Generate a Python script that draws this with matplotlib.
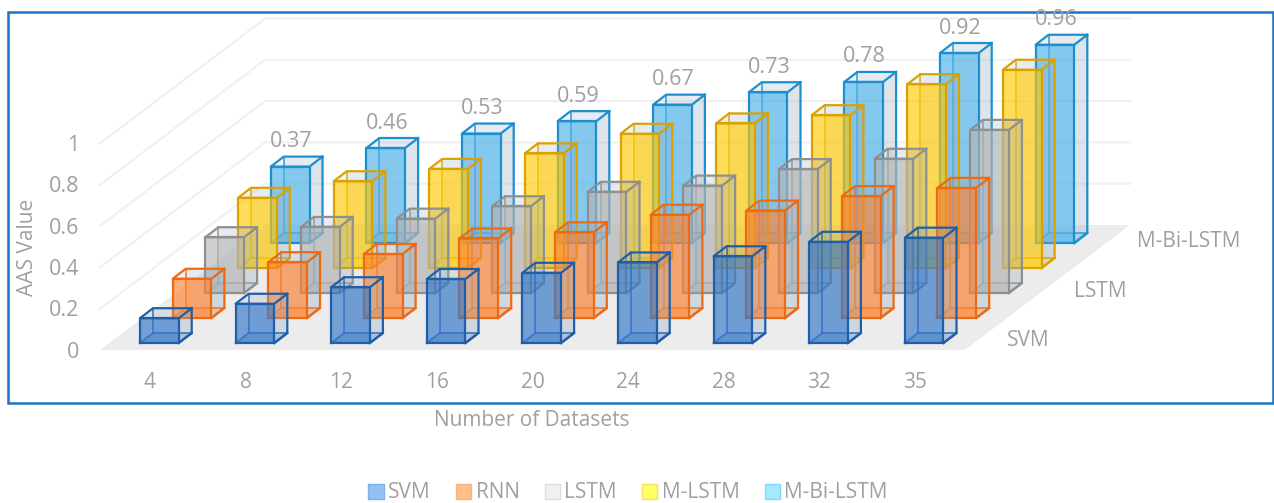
import numpy as np
import matplotlib.pyplot as plt
from matplotlib.patches import Patch, Rectangle

plt.rcParams['font.family'] = ['Open Sans', 'DejaVu Sans']

datasets = ['4', '8', '12', '16', '20', '24', '28', '32', '35']
series_names = ['SVM', 'RNN', 'LSTM', 'M-LSTM', 'M-Bi-LSTM']
depth_labels = ['SVM', 'LSTM', 'M-Bi-LSTM']
y_ticks = [0, 0.2, 0.4, 0.6, 0.8, 1]
y_tick_labels = ['0', '0.2', '0.4', '0.6', '0.8', '1']

svm = [0.12, 0.19, 0.27, 0.31, 0.34, 0.39, 0.42, 0.49, 0.51]
rnn = [0.19, 0.27, 0.31, 0.385, 0.415, 0.50, 0.52, 0.59, 0.63]
lstm = [0.27, 0.32, 0.36, 0.42, 0.49, 0.52, 0.60, 0.65, 0.79]
m_lstm = [0.34, 0.42, 0.48, 0.555, 0.65, 0.70, 0.74, 0.89, 0.96]
m_bi_lstm = [0.37, 0.46, 0.53, 0.59, 0.67, 0.73, 0.78, 0.92, 0.96]
all_values = [svm, rnn, lstm, m_lstm, m_bi_lstm]

edge_cols = ['#1f5fa8', '#ed6a12', '#8f8f8f', '#d9a200', '#1b8fcf']
face_cols = ['#3276c9', '#ff8230', '#b4b4b4', '#ffca00', '#4bb1e8']
legend_faces = ['#93c0f5', '#fdc088', '#f0f0f0', '#ffff66', '#a6e8ff']
legend_edges = ['#7fb0e8', '#f5b478', '#dddddd', '#f5e060', '#80d8f8']
text_col = '#a0a0a0'

# echelle : 1 categorie = 95.6 px, 1 unite de valeur = 206.5 px
W, H = 1274, 503
ux = 95.6
uy = 206.5
x0_px = 140
y0_px = 350

# decalages obliques (en unites de donnees)
bar_w = 38.7 / ux
dep_x = 13 / ux
dep_y = 10 / uy
ser_x = 32.7 / ux
ser_y = 25 / uy
base_y = 7 / uy

fig = plt.figure(figsize=(W / 100, H / 100), dpi=100)
ax = fig.add_axes([0, 0, 1, 1])
ax.set_xlim(-x0_px / ux, (W - x0_px) / ux)
ax.set_ylim((y0_px - H) / uy, y0_px / uy)
ax.axis('off')

# cadre bleu
ax.add_patch(Rectangle((8 / W, 1 - 403 / H), 1265 / W, 391 / H, transform=ax.transAxes,
                       fill=False, edgecolor='#1b75c4', lw=1.8, zorder=1))

# sol et grille
fl_left = -40 / ux
fl_right = 825 / ux
back_x = 165 / ux
back_y = 125 / uy
ax.fill([fl_left, fl_right, fl_right + back_x, fl_left + back_x],
        [0, 0, back_y, back_y], color='#ececec', lw=0, zorder=1)
for v in y_ticks[1:]:
    ax.plot([fl_left, fl_left + back_x, fl_right + back_x], [v, v + back_y, v + back_y],
            color='#f0f0f0', lw=1.5, zorder=1)


def draw_bar(x, y, h, edge, face, z):
    w = bar_w
    dx = dep_x
    dy = dep_y
    # faces arriere, gauche, bas
    ax.fill([x + dx, x + dx + w, x + dx + w, x + dx], [y + dy, y + dy, y + dy + h, y + dy + h],
            color='#8faabf', alpha=0.12, lw=0, zorder=z)
    ax.fill([x, x + w, x + w + dx, x + dx], [y, y, y + dy, y + dy], color=face, alpha=0.3, lw=0, zorder=z)
    # cote droit et dessus
    ax.fill([x + w, x + w + dx, x + w + dx, x + w], [y, y + dy, y + dy + h, y + h],
            color='#8faabf', alpha=0.2, lw=0, zorder=z)
    ax.fill([x, x + w, x + w + dx, x + dx], [y + h, y + h, y + h + dy, y + h + dy],
            color='#8faabf', alpha=0.12, lw=0, zorder=z)
    # aretes arriere
    ax.plot([x + dx, x + dx, x + dx + w], [y + dy + h, y + dy, y + dy], color=edge, lw=1.3, alpha=0.75, zorder=z)
    ax.plot([x, x + dx], [y, y + dy], color=edge, lw=1.3, alpha=0.75, zorder=z)
    # face avant
    ax.fill([x, x + w, x + w, x], [y, y, y + h, y + h], color=face, alpha=0.65, lw=0, zorder=z)
    # aretes avant
    ax.plot([x, x + w, x + w, x, x], [y, y, y + h, y + h, y], color=edge, lw=1.6, zorder=z)
    ax.plot([x + w, x + w + dx, x + w + dx, x + dx, x, x + w, x + w + dx],
            [y, y + dy, y + h + dy, y + h + dy, y + h, y + h, y + h + dy], color=edge, lw=1.6, zorder=z)
    ax.plot([x + w, x + w + dx], [y, y + dy], color=edge, lw=1.6, zorder=z)


# de l'arriere vers l'avant
for s in range(4, -1, -1):
    for i, val in enumerate(all_values[s]):
        x = i + s * ser_x
        y = base_y + s * ser_y
        draw_bar(x, y, val, edge_cols[s], face_cols[s], 10 + (4 - s))
        if s == 4:
            ax.text(x + bar_w / 2 + 1 / ux, y + val + dep_y + 15 / uy, f'{val:.2f}', color=text_col,
                    fontsize=15.5, ha='center', va='center', zorder=30)

# textes des axes
for i, lab in enumerate(datasets):
    ax.text(i + 10 / ux, -33 / uy, lab, color=text_col, fontsize=15, ha='center', va='center')
for v, lab in zip(y_ticks, y_tick_labels):
    ax.text(-61 / ux, v - 2 / uy, lab, color=text_col, fontsize=15.5, ha='right', va='center')
depth_x = [867, 934, 997]
depth_y = [10, 59, 109]
for k, lab in enumerate(depth_labels):
    ax.text(depth_x[k] / ux, depth_y[k] / uy, lab, color=text_col, fontsize=15, ha='left', va='center')

ax.text(-113 / ux, 103 / uy, 'AAS Value', color=text_col, fontsize=15, rotation=90, ha='center', va='center')
ax.text(392 / ux, -71 / uy, 'Number of Datasets', color=text_col, fontsize=15, ha='center', va='center')

handles = [Patch(facecolor=legend_faces[i], edgecolor=legend_edges[i], label=series_names[i]) for i in range(5)]
fig.legend(handles=handles, loc='center', bbox_to_anchor=(628 / W, 1 - 493 / H), ncol=5, frameon=False,
           fontsize=15, labelcolor=text_col, handlelength=0.75, handleheight=0.75, handletextpad=0.2,
           columnspacing=1.2, borderpad=0)

fig.savefig('out.png', dpi=100)
